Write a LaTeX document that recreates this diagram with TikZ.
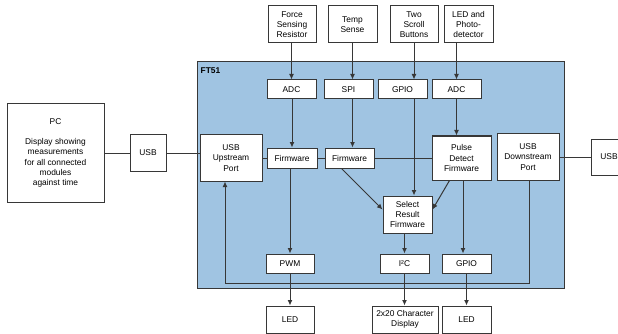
\documentclass[tikz,border=0pt]{standalone}
\usepackage{fontspec}
\setmainfont{Liberation Sans}
\usepackage{tikz}
\usepackage{color}
\usetikzlibrary{backgrounds,fit,arrows,arrows.meta}

\definecolor{chipblue}{RGB}{160,196,226}
\definecolor{edgegray}{RGB}{55,55,55}

\begin{document}
\begin{tikzpicture}
		[x=1pt,y=-1pt,
		block/.style= {draw=edgegray,fill=white,line width=1pt,inner sep=1pt,align=center,
			font=\fontsize{8.4}{10.3}\selectfont},
		wire/.style= {draw=edgegray,line width=1pt},
		flow/.style= {wire,-{Latex[length=5.5pt,width=5pt]}}]

		\useasboundingbox (0,0) rectangle (618,334);

		\node [draw=edgegray,fill=chipblue,line width=1pt,minimum width=367pt,minimum height=226pt] (ft51) at (380.5,175) {};
		\node [anchor=north west,inner sep=0pt,font=\fontsize{8.4}{10}\selectfont\bfseries] at (200.5,68) {FT51};

		\node[block,minimum width=48pt,minimum height=37pt] (fsr) at (292,24.5) {Force\\Sensing\\Resistor};
		\node[block,minimum width=49pt,minimum height=37pt] (temp) at (352.5,24.5) {Temp\\Sense};
		\node[block,minimum width=48pt,minimum height=37pt] (scroll) at (414,24.5) {Two\\Scroll\\Buttons};
		\node[block,minimum width=49pt,minimum height=37pt] (photo) at (468.5,24.5) {LED and\\Photo-\\detector};

		\node[block,minimum width=49pt,minimum height=19pt] (adcA) at (291.5,89.5) {ADC};
		\node[block,minimum width=49pt,minimum height=19pt] (spi) at (348.5,89.5) {SPI};
		\node[block,minimum width=49pt,minimum height=19pt] (gpioin) at (402.5,89.5) {GPIO};
		\node[block,minimum width=49pt,minimum height=19pt] (adcB) at (456.5,89.5) {ADC};

		\node[block,minimum width=97pt,minimum height=98pt] (pc) at (55.5,153) {PC\\[10pt]Display showing\\measurements\\for all connected\\modules\\against time};
		\node[block,minimum width=36pt,minimum height=36pt] (usbL) at (148,153) {USB};
		\node[block,minimum width=62pt,minimum height=46pt] (usbup) at (231,158) {USB\\Upstream\\Port};
		\node[block,minimum width=50pt,minimum height=20pt] (fwA) at (292,158) {Firmware};
		\node[block,minimum width=49pt,minimum height=20pt] (fwB) at (349.5,158) {Firmware};
		\node[block,minimum width=59pt,minimum height=44pt] (pulse) at (461.5,158) {Pulse\\Detect\\Firmware};
		\node[block,minimum width=62pt,minimum height=46pt] (usbdown) at (528,157) {USB\\Downstream\\Port};
		\node[block,minimum width=36pt,minimum height=36pt] (usbR) at (609,157) {USB};

		\node[block,minimum width=49pt,minimum height=37pt] (select) at (407.5,214.5) {Select\\Result\\Firmware};

		\node[block,minimum width=48pt,minimum height=19pt] (pwm) at (290,263.5) {PWM};
		\node[block,minimum width=49pt,minimum height=19pt] (i2c) at (404.5,263.5) {I²C};
		\node[block,minimum width=49pt,minimum height=19pt] (gpioout) at (466.5,263.5) {GPIO};

		\node[block,minimum width=48pt,minimum height=27pt] (ledA) at (290,319.5) {LED};
		\node[block,minimum width=66pt,minimum height=27pt] (display) at (405,319.5) {2x20 Character\\Display};
		\node[block,minimum width=49pt,minimum height=27pt] (ledB) at (466.5,319.5) {LED};

		\draw[wire] (pc.east |- usbL) -- (usbL.west);
		\draw[wire] (usbL.east) -- (usbL.east -| usbup.west);
		\draw[wire] (usbup.east) -- (fwA.west);
		\draw[wire] (fwA.east) -- (fwB.west);
		\draw[wire] (fwB.east) -- (fwB.east -| pulse.west);
		\draw[wire] (usbdown.east) -- (usbR.west);

		\draw[flow] (fsr.south -| adcA) -- (adcA.north);
		\draw[flow] (temp.south) -- (temp.south |- spi.north);
		\draw[flow] (scroll.south) -- (scroll.south |- gpioin.north);
		\draw[flow] (photo.south -| adcB) -- (adcB.north);

		\draw[flow] (adcA.south -| fwA) -- (fwA.north);
		\draw[flow] (spi.south -| temp) -- (fwB.north -| temp);
		\draw[flow] (gpioin.south -| scroll) -- (select.north -| scroll);
		\draw[flow] (adcB.south) -- (adcB.south |- pulse.north);

		\draw[flow] ([xshift=-8pt]fwB.south) -- ([yshift=5pt]select.west);
		\draw[flow] ([xshift=-12pt]pulse.south) -- ([yshift=5pt]select.east);
		\draw[flow] ([xshift=1.5pt]pulse.south) -- ([xshift=1.5pt]pulse.south |- gpioout.north);
		\draw[flow] (i2c.north |- select.south) -- (i2c.north);
		\draw[flow] (fwA.south -| pwm) -- (pwm.north);

		\draw[flow] (pwm.south) -- (ledA.north);
		\draw[flow] (i2c.south) -- (i2c.south |- display.north);
		\draw[flow] (gpioout.south) -- (ledB.north);

		\coordinate (ret) at (225,283);
		\draw[flow] ([xshift=1pt]usbdown.south) |- (ret) -- (ret |- usbup.south);

	\end{tikzpicture}
\end{document}
